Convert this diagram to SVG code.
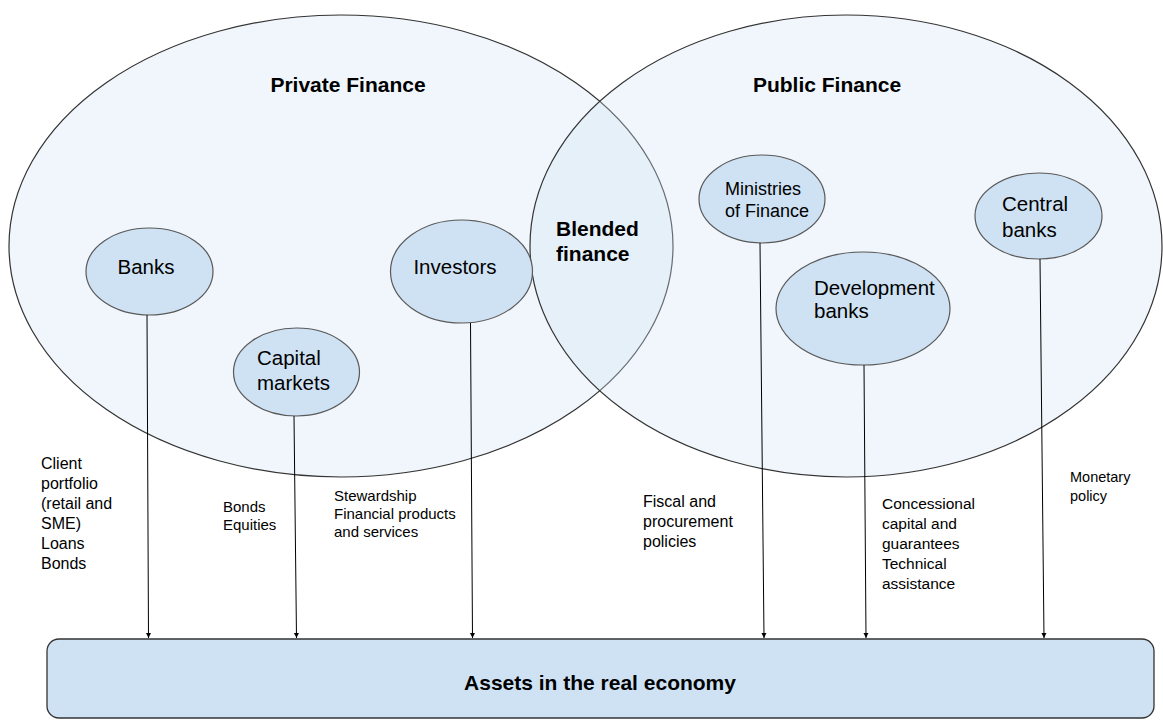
<svg xmlns="http://www.w3.org/2000/svg" width="1163" height="720" viewBox="0 0 1163 720">
<style>
text{font-family:"Liberation Sans",Arial,sans-serif;fill:#000}
.big{fill:#cfe2f3;fill-opacity:0.32;stroke:#333;stroke-width:1.2}
.node{fill:#cfe2f3;stroke:#595959;stroke-width:1.2}
.title{font-size:21px;font-weight:bold}
.nl{font-size:20.5px}
.lbl{font-size:15.5px}
.conn{stroke:#000;stroke-width:1;fill:none;marker-end:url(#ah)}
</style>
<defs>
<marker id="ah" viewBox="0 0 10 10" refX="10" refY="5" markerWidth="5" markerHeight="7" markerUnits="userSpaceOnUse" orient="auto">
<path d="M0,0 L10,5 L0,10 z" fill="#000"/>
</marker>
</defs>
<rect width="1163" height="720" fill="#fff"/>
<g id="private-finance">
<ellipse class="big" cx="341" cy="246" rx="332" ry="231"/>
<text class="title" x="348" y="92" text-anchor="middle">Private Finance</text>
</g>
<g id="public-finance">
<ellipse class="big" cx="846" cy="246" rx="316" ry="231"/>
<text class="title" x="827" y="92" text-anchor="middle">Public Finance</text>
</g>
<g id="blended-finance">
<text class="title" x="556" y="236">Blended</text>
<text class="title" x="556" y="261">finance</text>
</g>
<g id="banks">
<ellipse class="node" cx="149.5" cy="271.5" rx="63.5" ry="43.5"/>
<text class="nl" x="146" y="274" text-anchor="middle">Banks</text>
</g>
<g id="capital-markets">
<ellipse class="node" cx="296.5" cy="372" rx="63" ry="44"/>
<text class="nl" x="257" y="365">Capital</text>
<text class="nl" x="257" y="390">markets</text>
</g>
<g id="investors">
<ellipse class="node" cx="461.5" cy="271.5" rx="71" ry="51.5"/>
<text class="nl" x="455" y="274" text-anchor="middle">Investors</text>
</g>
<g id="ministries">
<ellipse class="node" cx="762" cy="199" rx="63" ry="44"/>
<text x="725" y="195" font-size="18">Ministries</text>
<text x="725" y="217" font-size="18">of Finance</text>
</g>
<g id="development-banks">
<ellipse class="node" cx="863" cy="308.5" rx="87" ry="56.5"/>
<text class="nl" x="814" y="295">Development</text>
<text class="nl" x="814" y="318">banks</text>
</g>
<g id="central-banks">
<ellipse class="node" cx="1038.5" cy="216" rx="63.5" ry="43"/>
<text class="nl" x="1002" y="211">Central</text>
<text class="nl" x="1002" y="237">banks</text>
</g>
<g id="assets">
<rect x="47" y="639" width="1107" height="79" rx="12" ry="12" fill="#cfe2f3" stroke="#333" stroke-width="1.3"/>
<text class="title" x="600" y="690" text-anchor="middle">Assets in the real economy</text>
</g>
<g id="connectors">
<line class="conn" x1="147" y1="315" x2="148.5" y2="638"/>
<line class="conn" x1="294" y1="416" x2="296.5" y2="638"/>
<line class="conn" x1="470.5" y1="323" x2="472.5" y2="638"/>
<line class="conn" x1="760" y1="243" x2="764" y2="638"/>
<line class="conn" x1="864" y1="365" x2="866" y2="638"/>
<line class="conn" x1="1040" y1="259" x2="1044" y2="638"/>
</g>
<g id="labels">
<text class="lbl" x="41" font-size="16" style="font-size:16px">
<tspan x="41" y="469">Client</tspan>
<tspan x="41" y="489">portfolio</tspan>
<tspan x="41" y="509">(retail and</tspan>
<tspan x="41" y="529">SME)</tspan>
<tspan x="41" y="549">Loans</tspan>
<tspan x="41" y="569">Bonds</tspan>
</text>
<text class="lbl" style="font-size:15px">
<tspan x="223" y="512">Bonds</tspan>
<tspan x="223" y="530">Equities</tspan>
</text>
<text class="lbl" style="font-size:15px">
<tspan x="334" y="501">Stewardship</tspan>
<tspan x="334" y="519">Financial products</tspan>
<tspan x="334" y="537">and services</tspan>
</text>
<text class="lbl" style="font-size:16px">
<tspan x="643" y="507">Fiscal and</tspan>
<tspan x="643" y="527">procurement</tspan>
<tspan x="643" y="547">policies</tspan>
</text>
<text class="lbl">
<tspan x="882" y="509">Concessional</tspan>
<tspan x="882" y="529">capital and</tspan>
<tspan x="882" y="549">guarantees</tspan>
<tspan x="882" y="569">Technical</tspan>
<tspan x="882" y="589">assistance</tspan>
</text>
<text class="lbl" style="font-size:14.5px">
<tspan x="1070" y="482">Monetary</tspan>
<tspan x="1070" y="501">policy</tspan>
</text>
</g>
</svg>
